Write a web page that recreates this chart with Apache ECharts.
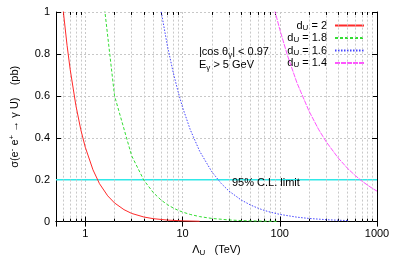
<!DOCTYPE html>
<html><head><meta charset="utf-8">
<script src="https://cdn.jsdelivr.net/npm/echarts@6/dist/echarts.min.js"></script>
<style>html,body{margin:0;padding:0;background:#fff}#c{width:395px;height:262px}</style>
</head><body><div id="c"></div>
<script>
// ---- data ----
const dLabels = ['2', '1.8', '1.6', '1.4'];
const redX = [0.5, 0.55, 0.6, 0.65, 0.7, 0.8, 0.9, 1.0, 1.2, 1.4, 1.7, 2, 2.5, 3, 4, 5, 7, 10, 15];
const redY = [1.42, 1.17, 0.986, 0.84, 0.725, 0.555, 0.438, 0.355, 0.247, 0.181, 0.123, 0.089, 0.057, 0.039, 0.022, 0.014, 0.0072, 0.0036, 0.0016];
const greenX = [1, 2, 3, 4, 5, 6, 7, 8, 9, 10, 12, 15, 20, 30, 40, 50, 70, 95];
const greenY = [1.82, 0.6, 0.314, 0.198, 0.1385, 0.1035, 0.0808, 0.0653, 0.054, 0.0457, 0.0341, 0.0239, 0.0151, 0.0079, 0.005, 0.0035, 0.002, 0.0012];
const blueX = [5, 6, 7, 8, 9, 10, 12, 15, 20, 25, 30, 40, 50, 60, 70, 80, 100, 150, 200, 300, 400, 500];
const blueY = [1.256, 1.009, 0.837, 0.714, 0.62, 0.546, 0.439, 0.336, 0.238, 0.182, 0.146, 0.1035, 0.0792, 0.0637, 0.0529, 0.045, 0.0345, 0.0212, 0.015, 0.0092, 0.0065, 0.005];
const magX = [80, 90, 100, 120, 150, 200, 250, 300, 400, 500, 600, 700, 800, 900, 1000];
const magY = [1.096, 0.998, 0.917, 0.793, 0.663, 0.527, 0.441, 0.381, 0.303, 0.253, 0.219, 0.193, 0.174, 0.158, 0.1453];
const limitX = [0.5, 1000];
const limitY = [0.2, 0.2];
const xMinorTicks = [0.6, 0.7, 0.8, 0.9, 2, 3, 4, 5, 6, 7, 8, 9, 20, 30, 40, 50, 60, 70, 80, 90, 200, 300, 400, 500, 600, 700, 800, 900];
const xMin = 0.5, xMax = 1000, yMin = 0, yMax = 1, yStep = 0.2;

const FONT = 'Liberation Sans';
const zip = (xs, ys) => xs.map((x, i) => [x, ys[i]]);
const chart = echarts.init(document.getElementById('c'), null, {renderer: 'canvas'});

const gridStyle = {color: '#c8c8c8', type: [2, 2], width: 1};
const minorTickLen = 0.014;
const tickMarks = [];
xMinorTicks.forEach(v => {
  tickMarks.push([{coord: [v, yMin]}, {coord: [v, yMin + minorTickLen]}]);
  tickMarks.push([{coord: [v, yMax]}, {coord: [v, yMax - minorTickLen]}]);
});

const mk = (name, xs, ys, color, type, width) => ({
  name, type: 'line', data: zip(xs, ys), showSymbol: false, symbol: 'none', legendIcon: 'none',
  lineStyle: {color, type, width}, itemStyle: {color, opacity: 0}, clip: true, animation: false, z: 5
});

const option = {
  animation: false,
  textStyle: {fontFamily: FONT},
  grid: {left: 53, right: 18, top: 12, bottom: 30, containLabel: false},
  xAxis: [{
    type: 'log', min: xMin, max: xMax, logBase: 10,
    axisLine: {show: true, lineStyle: {color: '#000', width: 1}},
    axisTick: {show: true, inside: true, length: 5, lineStyle: {color: '#000'}},
    axisLabel: {fontSize: 11, color: '#000', fontFamily: FONT, margin: 7, showMinLabel: false,
      formatter: v => String(Math.round(v))},
    splitLine: {show: true, lineStyle: gridStyle},
    name: '{a|Λ}{s|U}{a|   (TeV)}', nameLocation: 'middle', nameGap: 17,
    nameTextStyle: {rich: {
      a: {fontSize: 11, color: '#000', fontFamily: FONT, lineHeight: 14},
      s: {fontSize: 8, color: '#000', fontFamily: FONT, lineHeight: 9, verticalAlign: 'bottom'}
    }}
  }, {
    type: 'log', min: xMin, max: xMax, logBase: 10, position: 'top',
    axisLine: {show: true, lineStyle: {color: '#000', width: 1}},
    axisTick: {show: true, inside: true, length: 5, lineStyle: {color: '#000'}},
    axisLabel: {show: false}, splitLine: {show: false}
  }],
  yAxis: [{
    type: 'value', min: yMin, max: yMax, interval: yStep,
    axisLine: {show: true, lineStyle: {color: '#000', width: 1}},
    axisTick: {show: true, inside: true, length: 5, lineStyle: {color: '#000'}},
    axisLabel: {fontSize: 11, color: '#000', fontFamily: FONT, margin: 6},
    splitLine: {show: true, lineStyle: gridStyle},
    name: '{a|σ(e}{p|-}{a| e}{p|+}{a| → γ U)    (pb)}', nameLocation: 'middle', nameGap: 34,
    nameTextStyle: {rich: {
      a: {fontSize: 11, color: '#000', fontFamily: FONT, lineHeight: 14},
      p: {fontSize: 8, color: '#000', fontFamily: FONT, lineHeight: 9, verticalAlign: 'top'}
    }}
  }, {
    type: 'value', min: yMin, max: yMax, interval: yStep, position: 'right',
    axisLine: {show: true, lineStyle: {color: '#000', width: 1}},
    axisTick: {show: true, inside: true, length: 5, lineStyle: {color: '#000'}},
    axisLabel: {show: false}, splitLine: {show: false}
  }],
  legend: {
    orient: 'vertical', right: 30, top: 15, align: 'right', padding: [5, 0, 5, 5],
    itemWidth: 29, itemHeight: 10, itemGap: 1,
    itemStyle: {opacity: 0},
    data: dLabels.map(d => 'dU = ' + d),
    formatter: name => '{d|d}{s|U}{d| = ' + name.split('= ')[1] + '}',
    textStyle: {padding: [0, 3, 0, 0], rich: {
      d: {fontSize: 11, color: '#000', fontFamily: FONT, lineHeight: 12},
      s: {fontSize: 8, color: '#000', fontFamily: FONT, lineHeight: 9, verticalAlign: 'bottom'}
    }}
  },
  series: [
    {
      name: 'grid', type: 'line', data: [], silent: true, z: 1,
      markLine: {silent: true, symbol: 'none', label: {show: false}, animation: false,
        lineStyle: gridStyle, data: xMinorTicks.map(v => ({xAxis: v}))}
    },
    {
      name: 'ticks', type: 'line', data: [], silent: true, z: 6,
      markLine: {silent: true, symbol: 'none', label: {show: false}, animation: false,
        lineStyle: {color: '#000', type: 'solid', width: 1}, data: tickMarks}
    },
    {
      name: 'limit', type: 'line', data: zip(limitX, limitY), showSymbol: false, symbol: 'none',
      lineStyle: {color: '#30e8e8', width: 1.5, type: 'solid'}, z: 4
    },
    mk('dU = 2', redX, redY, '#ff2a2a', 'solid', 1),
    mk('dU = 1.8', greenX, greenY, '#33dd33', [3, 2], 1),
    mk('dU = 1.6', blueX, blueY, '#4646ff', [1.5, 1.5], 1),
    mk('dU = 1.4', magX, magY, '#ff55ff', [5, 1], 1)
  ],
  graphic: [
    {type: 'text', x: 199, y: 52, z: 10, style: {
      text: '{a||cos θ}{s|γ}{a|| < 0.97}', verticalAlign: 'middle',
      rich: {a: {fontSize: 11, fill: '#000', fontFamily: FONT, lineHeight: 14},
             s: {fontSize: 8, fill: '#000', fontFamily: FONT, lineHeight: 9, verticalAlign: 'bottom'}}}},
    {type: 'text', x: 199, y: 65, z: 10, style: {
      text: '{a|E}{s|γ}{a| > 5 GeV}', verticalAlign: 'middle',
      rich: {a: {fontSize: 11, fill: '#000', fontFamily: FONT, lineHeight: 14},
             s: {fontSize: 8, fill: '#000', fontFamily: FONT, lineHeight: 9, verticalAlign: 'bottom'}}}},
    {type: 'text', x: 232, y: 183, z: 10, style: {
      text: '95% C.L. limit', verticalAlign: 'middle', fontSize: 11, fill: '#000', fontFamily: FONT}}
  ]
};
chart.setOption(option);
</script></body></html>
